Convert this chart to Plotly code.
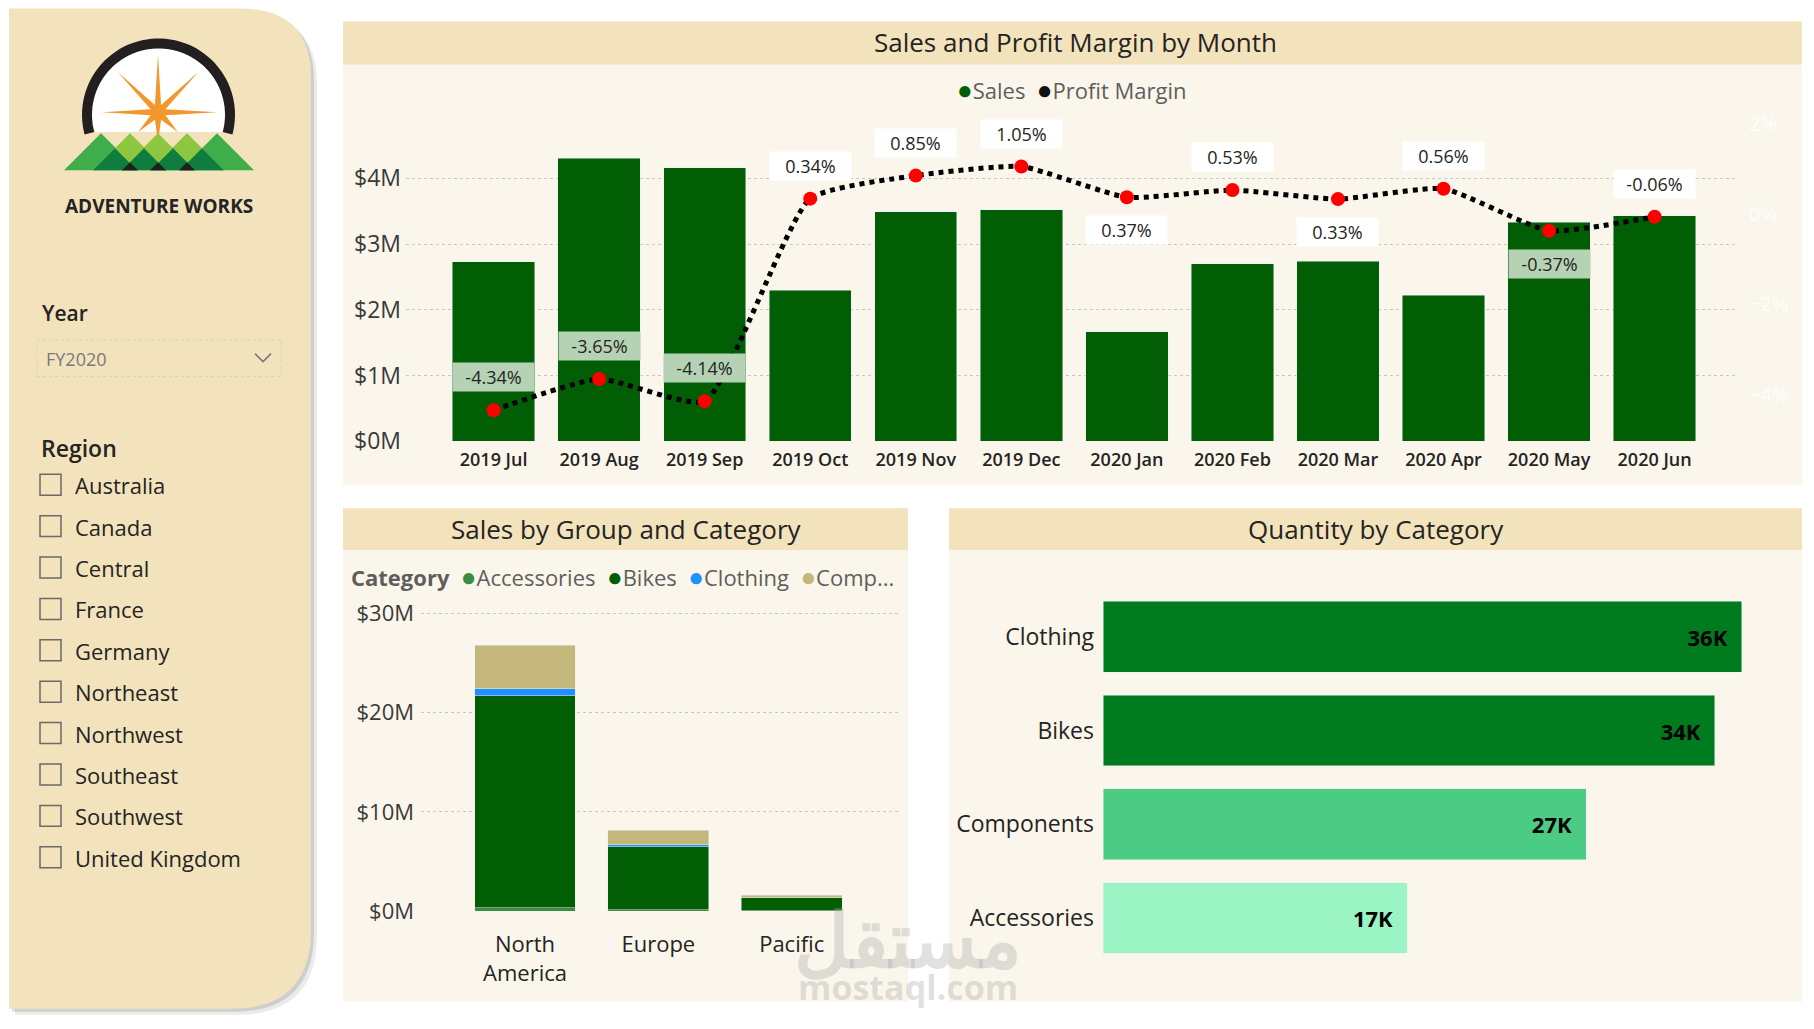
import numpy as np
import plotly.graph_objects as go

# page body keeps an 8px margin, so the figure is drawn inside it
PAD = 8
W, H = 1814 - 2 * PAD, 1029 - 2 * PAD
FONT = "Segoe UI, Open Sans, sans-serif"
TXT = "#252423"
TAN = "#f2e3bd"
CREAM = "#faf6eb"

# --- sales and margin by month ---
months = ["2019 Jul", "2019 Aug", "2019 Sep", "2019 Oct", "2019 Nov", "2019 Dec",
          "2020 Jan", "2020 Feb", "2020 Mar", "2020 Apr", "2020 May", "2020 Jun"]
sales_m = [2.73, 4.31, 4.16, 2.30, 3.49, 3.52, 1.67, 2.70, 2.74, 2.22, 3.33, 3.43]
margin_pct = [-4.34, -3.65, -4.14, 0.34, 0.85, 1.05, 0.37, 0.53, 0.33, 0.56, -0.37, -0.06]
label_side = ["up", "up", "up", "up", "up", "up", "down", "up", "down", "up", "down", "up"]
label_bg = ["#b5d2b4", "#b5d2b4", "#b5d2b4", "white", "white", "white",
            "white", "white", "white", "white", "#b5d2b4", "white"]

# --- sales by group and category ($M) ---
groups = ["North America", "Europe", "Pacific"]
cat_names = ["Accessories", "Bikes", "Clothing", "Components"]
sales_accessories = [0.34, 0.12, 0.04]
sales_bikes = [21.35, 6.38, 1.28]
sales_clothing = [0.73, 0.20, 0.03]
sales_components = [4.38, 1.46, 0.27]
cat_colors = ["#3d8c42", "#015e05", "#1e90ff", "#c3b77b"]

# --- quantity by category ---
qty_cats = ["Clothing", "Bikes", "Components", "Accessories"]
qty = [35700, 34200, 27000, 17000]
qty_colors = ["#007c1f", "#007c1f", "#4bcb84", "#9af4c4"]

regions = ["Australia", "Canada", "Central", "France", "Germany", "Northeast",
           "Northwest", "Southeast", "Southwest", "United Kingdom"]


def fx(p):
    return (p - PAD) / W


def fy(t):
    # screen y (px) -> paper y; the page comes out slightly squeezed vertically
    p = (t - 8.6) / 0.98
    return 1 - (p - PAD) / H


fig = go.Figure()

# top combo chart
fig.add_trace(go.Bar(x=months, y=sales_m, name="Sales", marker_color="#015e05",
                     width=0.78, xaxis="x", yaxis="y", showlegend=False))
fig.add_trace(go.Scatter(x=months, y=margin_pct, name="Profit Margin", mode="lines+markers",
                         line=dict(color="black", width=5, dash="dot", shape="spline", smoothing=0.5),
                         marker=dict(color="#ff0000", size=14),
                         xaxis="x", yaxis="y2", showlegend=False))

# stacked bars
for name, vals, col in zip(cat_names,
                           [sales_accessories, sales_bikes, sales_clothing, sales_components],
                           cat_colors):
    fig.add_trace(go.Bar(x=groups, y=vals, name=name, marker_color=col, width=0.757,
                         xaxis="x2", yaxis="y3", showlegend=False))

# horizontal bars
fig.add_trace(go.Bar(y=qty_cats, x=qty, orientation="h", marker_color=qty_colors, width=0.755,
                     text=[f"{round(v / 1000)}K\u00a0\u00a0" for v in qty], textposition="inside",
                     insidetextanchor="end",
                     textfont=dict(family=FONT, size=22, color="black", weight="bold"),
                     xaxis="x3", yaxis="y4", showlegend=False))

grid = dict(showgrid=True, gridcolor="#c9c7c2", griddash="dot", gridwidth=1, zeroline=False)

fig.update_layout(
    width=W, height=H, margin=dict(l=0, r=0, t=0, b=0),
    paper_bgcolor="white", plot_bgcolor="rgba(0,0,0,0)",
    font=dict(family=FONT, color=TXT),
    barmode="stack",
    xaxis=dict(domain=[fx(406), fx(1738)], range=[-0.83, 11.79], showgrid=False,
               tickfont=dict(size=18, color=TXT, weight=600), ticklabelstandoff=6),
    yaxis=dict(domain=[fy(443), fy(118)], range=[0, 4.93], dtick=1, tickprefix="$",
               ticksuffix="M", tickfont=dict(size=23, color="#3b3a39"), ticklabelstandoff=4, **grid),
    yaxis2=dict(overlaying="y", side="right", range=[-5.03, 2.14], dtick=2, ticksuffix="%",
                showgrid=False, zeroline=False, tickfont=dict(size=20, color="rgba(255,255,255,0.9)"),
                ticklabelstandoff=10),
    xaxis2=dict(domain=[fx(421), fx(901)], range=[-0.78, 2.82], anchor="y3", showgrid=False,
                tickvals=groups, ticktext=[g.replace(" ", "<br>") for g in groups],
                tickfont=dict(size=22, color=TXT), ticklabelstandoff=18),
    yaxis3=dict(domain=[fy(914), fy(605)], range=[0, 31.06], dtick=10, anchor="x2",
                tickprefix="$", ticksuffix="M", tickfont=dict(size=22, color="#3b3a39"),
                ticklabelstandoff=6, **grid),
    xaxis3=dict(domain=[fx(1103), fx(1790)], range=[0, 38400], anchor="y4", visible=False),
    yaxis4=dict(domain=[fy(968), fy(592)], range=[3.5, -0.5], anchor="x3", showgrid=False,
                tickfont=dict(size=23, color=TXT), ticklabelstandoff=8),
)

shapes = []


def rect(x0, y0, x1, y1, color, line=None):
    shapes.append(dict(type="rect", xref="paper", yref="paper", x0=fx(x0), x1=fx(x1),
                       y0=fy(y1), y1=fy(y0), fillcolor=color, layer="below",
                       line=line or dict(width=0)))


def poly(pts, color, close=True, line=None):
    d = "M " + " L ".join(f"{fx(a):.5f},{fy(b):.5f}" for a, b in pts) + (" Z" if close else "")
    shapes.append(dict(type="path", path=d, xref="paper", yref="paper", layer="below",
                       fillcolor=color if close else None, line=line or dict(width=0)))


def side_panel(dx, dy, color):
    x0, y0, x1, y1, r1, r2 = 9 + dx, 9 + dy, 311 + dx, 1012 + dy, 70, 80
    d = (f"M {fx(x0)},{fy(y0)} L {fx(x1 - r1)},{fy(y0)} Q {fx(x1)},{fy(y0)} {fx(x1)},{fy(y0 + r1)} "
         f"L {fx(x1)},{fy(y1 - r2)} Q {fx(x1)},{fy(y1)} {fx(x1 - r2)},{fy(y1)} L {fx(x0)},{fy(y1)} Z")
    shapes.append(dict(type="path", path=d, xref="paper", yref="paper", layer="below",
                       fillcolor=color, line=dict(width=0)))


side_panel(6, 6, "rgba(0,0,0,0.08)")
side_panel(3, 3, "rgba(0,0,0,0.12)")
side_panel(0, 0, TAN)

# panels
rect(343, 22, 1802, 487, CREAM)
rect(343, 22, 1802, 65, TAN)
rect(343, 510, 908, 1005, CREAM)
rect(343, 510, 908, 552, TAN)
rect(949, 510, 1802, 1005, CREAM)
rect(949, 510, 1802, 552, TAN)

# logo
cx, cy = 158.5, 115.5
a = np.radians(np.linspace(-15, 195, 60))
poly([(cx + 67 * np.cos(t), cy - 67 * np.sin(t)) for t in a], "white")
poly([(cx + 71.5 * np.cos(t), cy - 71.5 * np.sin(t)) for t in a], None, close=False,
     line=dict(color="#231f20", width=10))
star = []
outer = [59, 57, 58, 57, 56, 28, 30, 28]
for k in range(16):
    ang = np.radians(k * 22.5)
    r = outer[k // 2] if k % 2 == 0 else 8
    star.append((158 + r * np.cos(ang), 113 - r * np.sin(ang)))
poly(star, "#f2972e")
for px_, py_, col in [(101, 134, "#40ad4b"), (217, 134, "#40ad4b"),
                      (130, 134, "#8dc63f"), (158, 134, "#8dc63f"), (187, 134, "#8dc63f"),
                      (115, 149, "#0e7d3e"), (144, 149, "#0e7d3e"),
                      (173, 149, "#0e7d3e"), (202, 149, "#0e7d3e"),
                      (130, 163, "#231f20"), (158, 163, "#231f20"), (187, 163, "#231f20")]:
    hb = 171 - py_
    poly([(px_ - hb, 171), (px_, py_), (px_ + hb, 171)], col)

# year dropdown
rect(37, 341, 281, 378, "rgba(0,0,0,0)", line=dict(color="#dcd3bb", width=1, dash="dot"))
poly([(255, 355), (263, 363), (271, 355)], None, close=False, line=dict(color="#777777", width=1.5))

# region checkboxes
for i in range(len(regions)):
    yc = 487 + 41.5 * i
    shapes.append(dict(type="rect", xref="paper", yref="paper", x0=fx(40), x1=fx(61),
                       y0=fy(yc + 10), y1=fy(yc - 11), line=dict(color="#6b6a68", width=1.5)))

fig.update_layout(shapes=shapes)

ann = []


def text(x, y, s, size, color=TXT, anchor="center", weight="normal", **kw):
    ann.append(dict(x=fx(x), y=fy(y), xref="paper", yref="paper", text=s, showarrow=False,
                    xanchor=anchor, yanchor="middle",
                    font=dict(family=FONT, size=size, color=color, weight=weight), **kw))


def dot(col):
    return f"<span style='color:{col};font-size:26px'>●</span>"


text(1075, 43, "Sales and Profit Margin by Month", 26)
text(626, 531, "Sales by Group and Category", 26)
text(1376, 531, "Quantity by Category", 26)
text(1072, 90, f"{dot('#015e05')}Sales  {dot('#111111')}Profit Margin", 22, color="#605e5c")
text(349, 578, f"<b>Category</b>  {dot('#3d8c42')}Accessories  {dot('#015e05')}Bikes  "
     f"{dot('#1e90ff')}Clothing  {dot('#c3b77b')}Comp...", 22, color="#605e5c", anchor="left")

text(159, 207, "ADVENTURE WORKS", 19, weight="bold")
text(40, 314, "Year", 21, anchor="left", weight=600)
text(44, 360, "FY2020", 18, color="#7a7a7a", anchor="left")
text(39, 450, "Region", 23, anchor="left", weight=600)
for i, reg in enumerate(regions):
    text(73, 487 + 41.5 * i, reg, 22, anchor="left")

# watermark
text(908, 940, "مستقل", 76, color="rgba(170,170,170,0.35)", weight="bold")
text(908, 990, "mostaql.com", 34, color="rgba(170,170,170,0.35)", weight="bold")

# margin data labels
for m, v, side, bg in zip(months, margin_pct, label_side, label_bg):
    ann.append(dict(x=m, y=v, xref="x", yref="y2", text=f"{v:.2f}%", showarrow=False,
                    yshift=33 if side == "up" else -33, bgcolor=bg, width=73, height=20, borderpad=4,
                    font=dict(family=FONT, size=18, color=TXT)))

fig.update_layout(annotations=ann)
fig.write_html("out.html")
